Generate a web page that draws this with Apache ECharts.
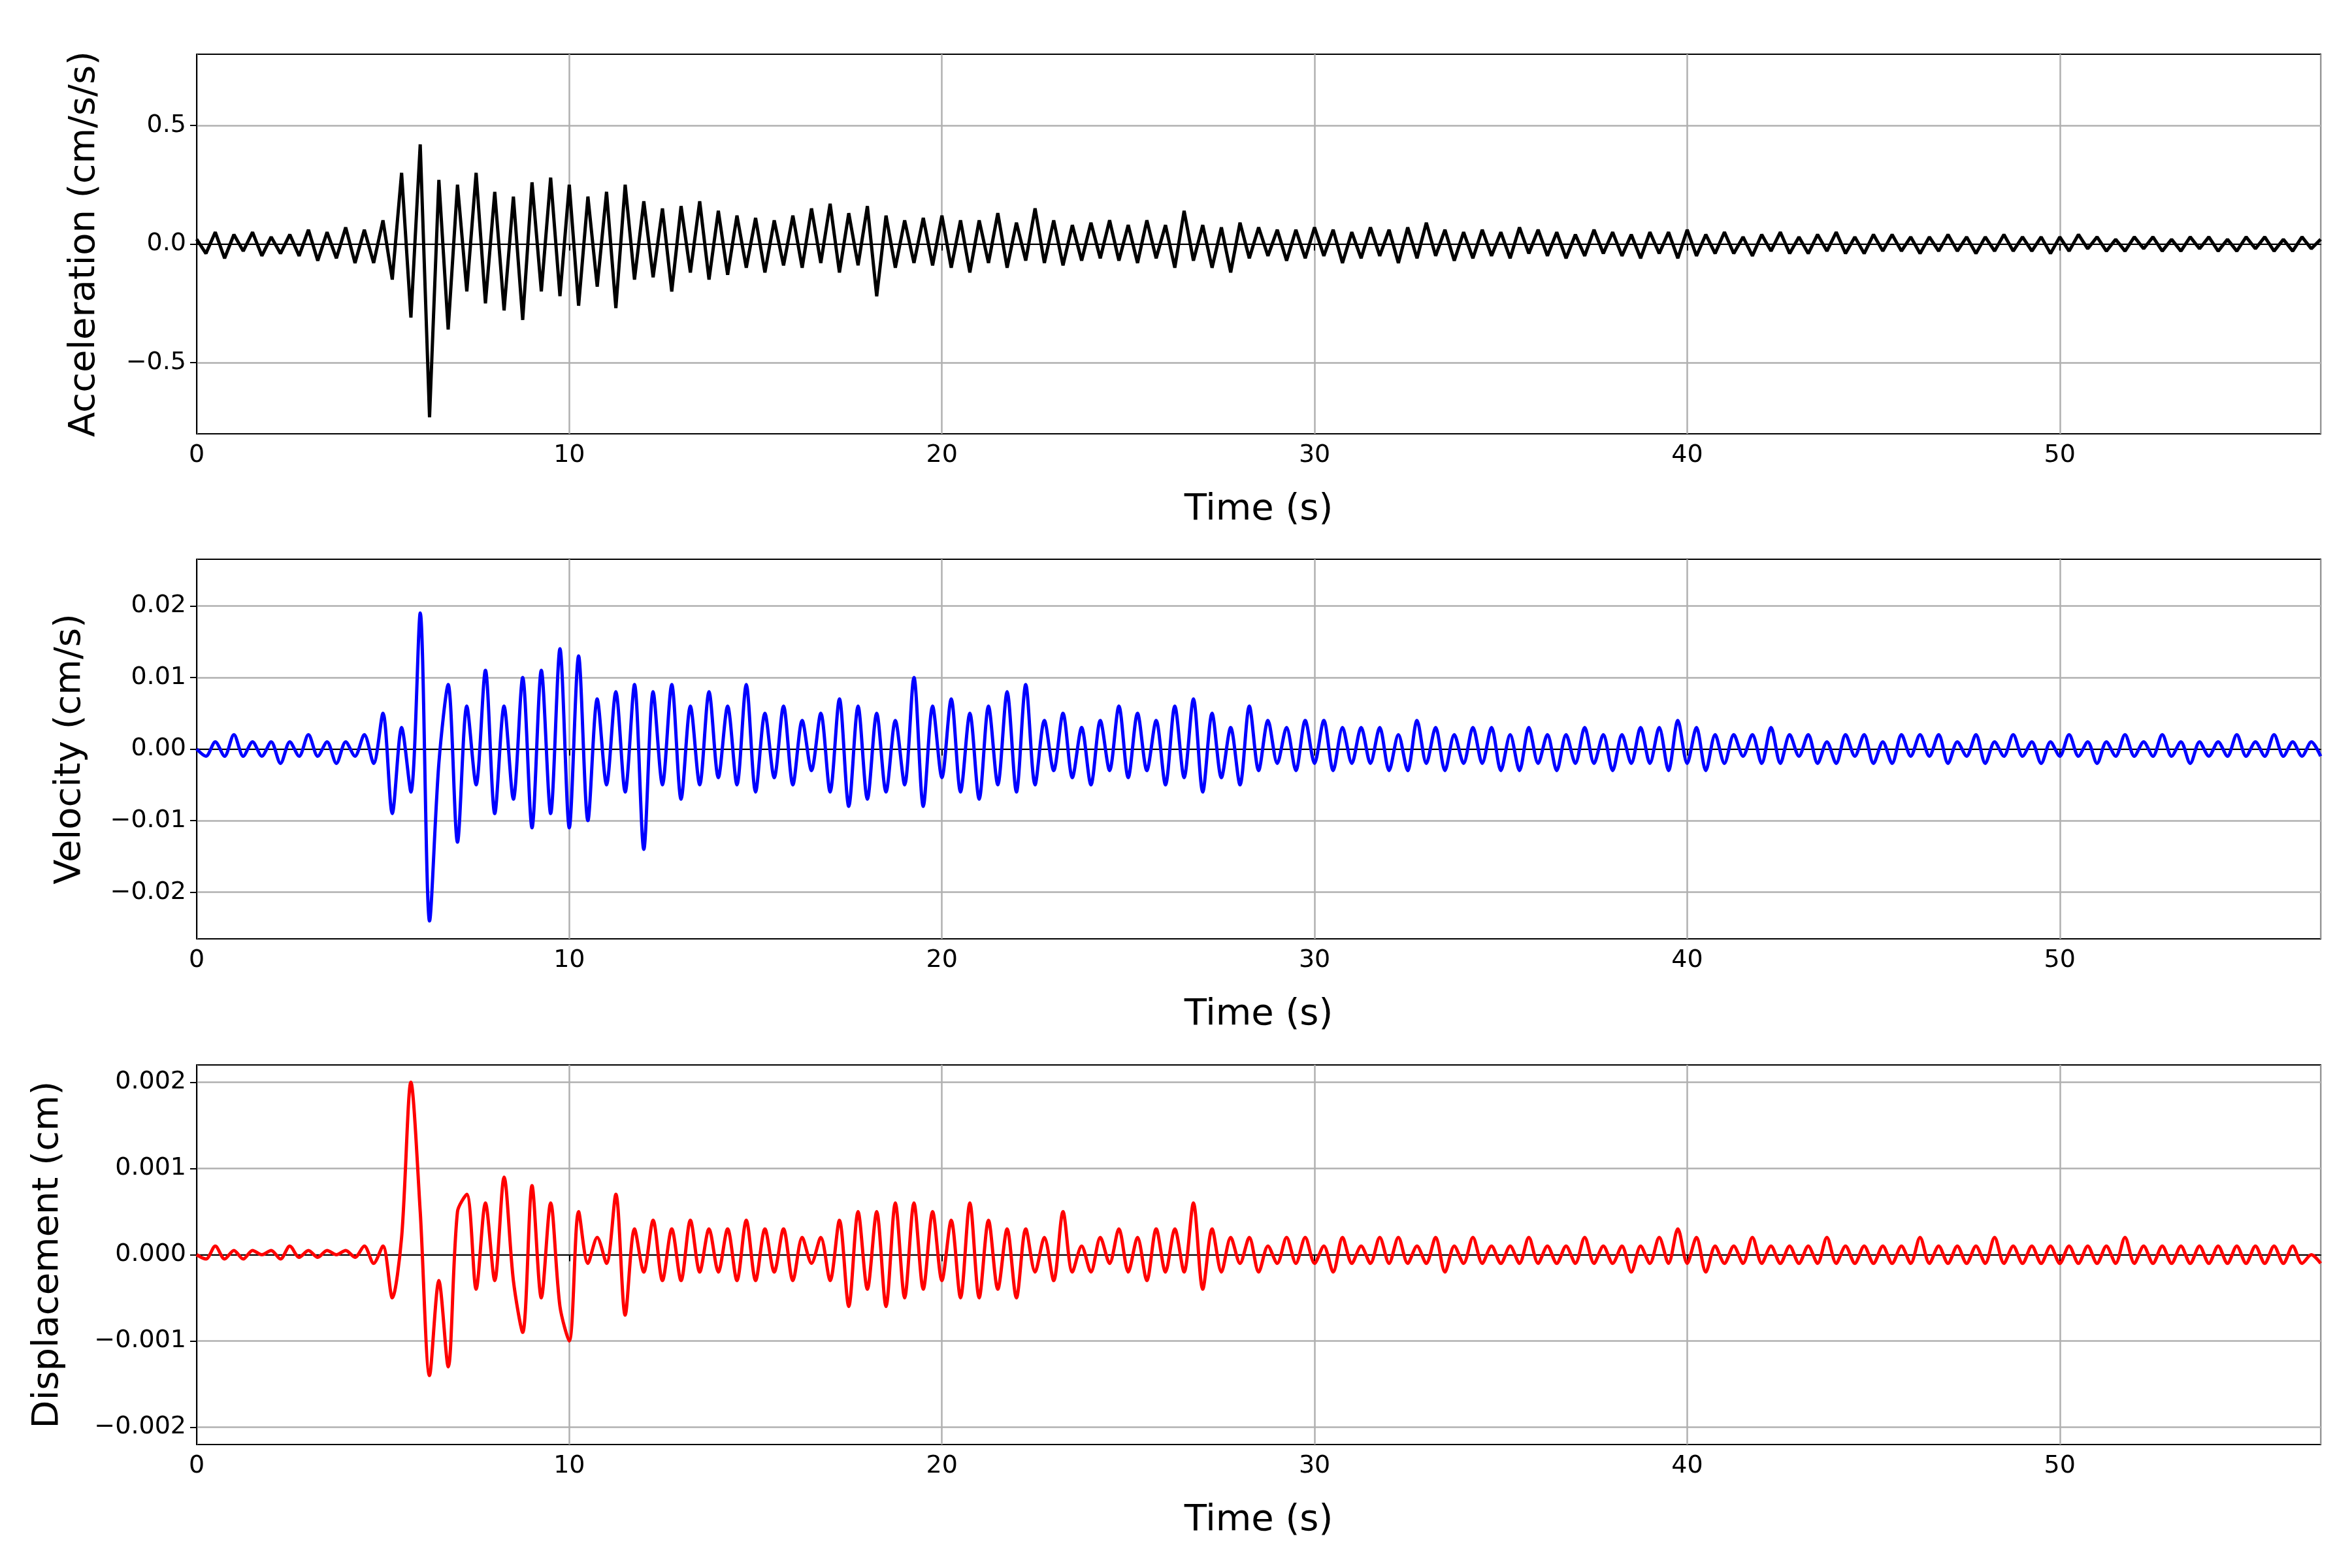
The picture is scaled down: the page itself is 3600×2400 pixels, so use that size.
<!DOCTYPE html>
<html>
<head>
<meta charset="utf-8">
<script src="https://cdn.jsdelivr.net/npm/echarts@6/dist/echarts.min.js"></script>
<style>html,body{margin:0;padding:0;background:#fff}#chart{width:3600px;height:2400px}</style>
</head>
<body>
<div id="chart"></div>
<script>
// sampled every 0.25 s, 0..57 s
var dt = 0.25;
var accel = [
 0.02,-0.04,0.05,-0.06,0.04,-0.03,0.05,-0.05,0.03,-0.04,0.04,-0.05,0.06,-0.07,0.05,-0.06,0.07,-0.08,0.06,-0.08,
 0.1,-0.15,0.3,-0.31,0.42,-0.73,0.27,-0.36,0.25,-0.2,0.3,-0.25,0.22,-0.28,0.2,-0.32,0.26,-0.2,0.28,-0.22,
 0.25,-0.26,0.2,-0.18,0.22,-0.27,0.25,-0.15,0.18,-0.14,0.15,-0.2,0.16,-0.12,0.18,-0.15,0.14,-0.13,0.12,-0.1,
 0.11,-0.12,0.1,-0.09,0.12,-0.1,0.15,-0.08,0.17,-0.12,0.13,-0.09,0.16,-0.22,0.12,-0.1,0.1,-0.08,0.11,-0.09,
 0.12,-0.1,0.1,-0.12,0.1,-0.08,0.13,-0.1,0.09,-0.07,0.15,-0.08,0.1,-0.09,0.08,-0.07,0.09,-0.06,0.1,-0.07,
 0.08,-0.08,0.1,-0.06,0.08,-0.1,0.14,-0.07,0.08,-0.1,0.07,-0.12,0.09,-0.06,0.07,-0.05,0.06,-0.07,0.06,-0.06,
 0.07,-0.05,0.06,-0.08,0.05,-0.06,0.07,-0.05,0.06,-0.08,0.07,-0.06,0.09,-0.05,0.06,-0.07,0.05,-0.06,0.06,-0.05,
 0.05,-0.06,0.07,-0.04,0.06,-0.05,0.05,-0.06,0.04,-0.05,0.06,-0.04,0.05,-0.05,0.04,-0.06,0.05,-0.04,0.05,-0.06,
 0.06,-0.05,0.04,-0.04,0.05,-0.04,0.03,-0.05,0.04,-0.03,0.05,-0.04,0.03,-0.04,0.04,-0.03,0.05,-0.04,0.03,-0.04,
 0.04,-0.03,0.04,-0.03,0.03,-0.04,0.03,-0.03,0.04,-0.03,0.03,-0.04,0.03,-0.03,0.04,-0.03,0.03,-0.03,0.03,-0.04,
 0.03,-0.03,0.04,-0.02,0.03,-0.03,0.02,-0.03,0.03,-0.02,0.03,-0.03,0.02,-0.03,0.03,-0.02,0.03,-0.03,0.02,-0.03,
 0.03,-0.02,0.03,-0.03,0.02,-0.03,0.03,-0.02,0.02
];
// velocity in units of 0.001 cm/s
var velMilli = [
 0,-1,1,-1,2,-1,1,-1,1,-2,1,-1,2,-1,1,-2,1,-1,2,-2,
 5,-9,3,-6,19,-24,-2,9,-13,6,-5,11,-9,6,-7,10,-11,11,-9,14,
 -11,13,-10,7,-5,8,-6,9,-14,8,-5,9,-7,6,-5,8,-4,6,-5,9,
 -6,5,-4,6,-5,4,-3,5,-6,7,-8,6,-7,5,-6,4,-5,10,-8,6,
 -4,7,-6,5,-7,6,-5,8,-6,9,-5,4,-3,5,-4,3,-5,4,-3,6,
 -4,5,-3,4,-5,6,-4,7,-6,5,-4,3,-5,6,-3,4,-2,3,-3,4,
 -2,4,-3,3,-2,3,-2,3,-3,2,-3,4,-2,3,-3,2,-2,3,-2,3,
 -3,2,-3,3,-2,2,-3,2,-2,3,-2,2,-3,2,-2,3,-2,3,-3,4,
 -2,3,-3,2,-2,2,-1,2,-2,3,-2,2,-1,2,-2,1,-2,2,-1,2,
 -2,1,-2,2,-1,2,-1,2,-2,1,-1,2,-2,1,-1,2,-1,1,-2,1,
 -1,2,-1,1,-2,1,-1,2,-1,1,-1,2,-1,1,-2,1,-1,1,-1,2,
 -1,1,-1,2,-1,1,-1,1,-1
];
// displacement in units of 0.0001 cm
var dispTenth = [
 0,-0.5,1,-0.5,0.5,-0.5,0.5,0,0.5,-0.5,1,-0.3,0.5,-0.3,0.5,0,0.5,-0.3,1,-1,
 1,-5,2,20,5,-14,-3,-13,5,7,-4,6,-3,9,-3,-9,8,-5,6,-6,
 -10,5,-1,2,-1,7,-7,3,-2,4,-3,3,-3,4,-2,3,-2,3,-3,4,
 -3,3,-2,3,-3,2,-1,2,-3,4,-6,5,-4,5,-6,6,-5,6,-4,5,
 -3,4,-5,6,-5,4,-4,3,-5,3,-2,2,-3,5,-2,1,-2,2,-1,3,
 -2,2,-3,3,-2,3,-2,6,-4,3,-2,2,-1,2,-2,1,-1,2,-1,2,
 -1,1,-2,2,-1,1,-1,2,-1,2,-1,1,-1,2,-2,1,-1,2,-1,1,
 -1,1,-1,2,-1,1,-1,1,-1,2,-1,1,-1,1,-2,1,-1,2,-1,3,
 -1,2,-2,1,-1,1,-1,2,-1,1,-1,1,-1,1,-1,2,-1,1,-1,1,
 -1,1,-1,1,-1,2,-1,1,-1,1,-1,1,-1,2,-1,1,-1,1,-1,1,
 -1,1,-1,1,-1,1,-1,2,-1,1,-1,1,-1,1,-1,1,-1,1,-1,1,
 -1,1,-1,1,-1,1,-1,0,-1
];
var accTicks = [-0.5, 0, 0.5];
var velTicks = [-0.02, -0.01, 0, 0.01, 0.02];
var dispTicks = [-0.002, -0.001, 0, 0.001, 0.002];

function pairs(arr, scale) {
  return arr.map(function (v, i) { return [i * dt, v * scale]; });
}
function fmt(d) {
  return function (v) {
    var s = Math.abs(v).toFixed(d);
    return (v < -1e-12 ? '\u2212' : '') + s;
  };
}

var tops = [83, 856, 1630];
var gridH = 581;
var names = ['Acceleration (cm/s/s)', 'Velocity (cm/s)', 'Displacement (cm)'];
var ranges = [[-0.8, 0.8], [-0.0265, 0.0265], [-0.0022, 0.0022]];
var tickSets = [accTicks, velTicks, dispTicks];
var decimals = [1, 2, 3];
var colors = ['#000000', '#0000ff', '#ff0000'];
var datas = [pairs(accel, 1), pairs(velMilli, 0.001), pairs(dispTenth, 0.0001)];
var nameGaps = [144, 166, 200];

var grids = [], xAxes = [], yAxes = [], series = [];
for (var k = 0; k < 3; k++) {
  grids.push({left: 301, right: 48, top: tops[k], height: gridH, show: true,
    borderColor: '#000', borderWidth: 2, backgroundColor: '#fff'});
  xAxes.push({type: 'value', gridIndex: k, min: 0, max: 57, interval: 10,
    name: 'Time (s)', nameLocation: 'middle', nameGap: 88,
    nameTextStyle: {fontSize: 56, color: '#000', fontFamily: 'DejaVu Sans'},
    axisLine: {lineStyle: {color: '#000', width: 2}},
    axisTick: {length: 10, lineStyle: {color: '#000', width: 2}},
    axisLabel: {fontSize: 38, color: '#000', fontFamily: 'DejaVu Sans', margin: 14, showMaxLabel: false},
    splitLine: {show: true, lineStyle: {color: '#b0b0b0', width: 2.5}}});
  yAxes.push({type: 'value', gridIndex: k, min: ranges[k][0], max: ranges[k][1],
    name: names[k], nameLocation: 'middle', nameGap: nameGaps[k],
    nameTextStyle: {fontSize: 56, color: '#000', fontFamily: 'DejaVu Sans'},
    axisLine: {lineStyle: {color: '#000', width: 2}},
    axisTick: {length: 10, customValues: tickSets[k], lineStyle: {color: '#000', width: 2}},
    axisLabel: {fontSize: 38, color: '#000', fontFamily: 'DejaVu Sans', margin: 16,
      customValues: tickSets[k], formatter: fmt(decimals[k])},
    splitLine: {show: true, lineStyle: {color: '#b0b0b0', width: 2.5}}});
  series.push({type: 'line', xAxisIndex: k, yAxisIndex: k, data: datas[k],
    showSymbol: false, smooth: k > 0 ? 0.3 : false,
    lineStyle: {color: colors[k], width: 5}, animation: false});
}

var chart = echarts.init(document.getElementById('chart'));
chart.setOption({backgroundColor: '#fff', animation: false,
  grid: grids, xAxis: xAxes, yAxis: yAxes, series: series});
</script>
</body>
</html>
